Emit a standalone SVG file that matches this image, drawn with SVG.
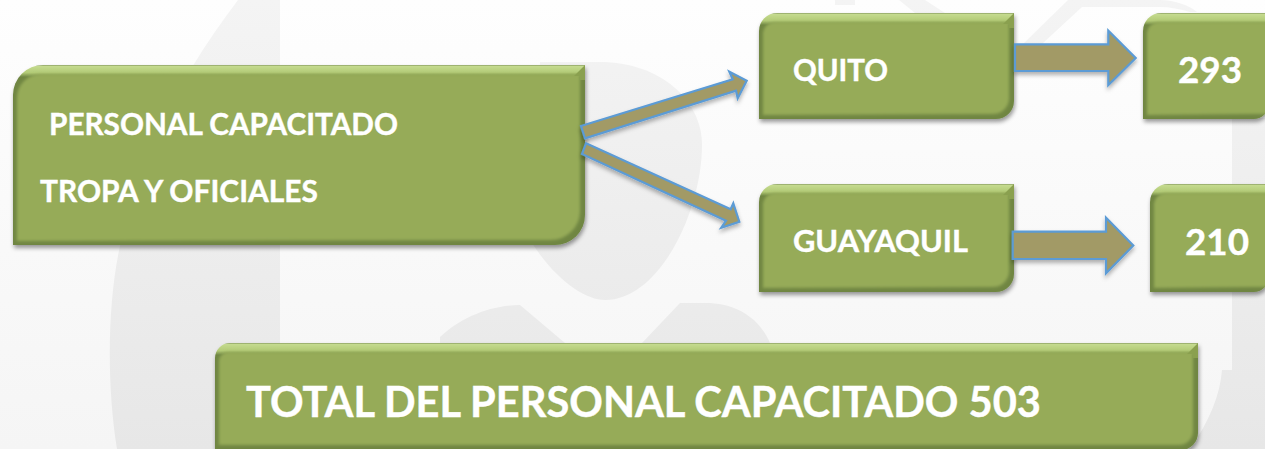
<svg xmlns="http://www.w3.org/2000/svg" width="1265" height="449" viewBox="0 0 1265 449">
<style>
.t{font-family:"Lato","Noto Sans",sans-serif;font-weight:700;fill:#fff;stroke:#fff;stroke-width:.4}
.a{fill:#a29a66;stroke:#5b9bd5;stroke-width:2.2;stroke-linejoin:miter}
.w{fill:url(#wm)}
.in{fill:#96ab58;filter:url(#soft)}
.m{fill:#8aa04f}
</style>
<defs>
<linearGradient id="bg" gradientUnits="userSpaceOnUse" x1="0" y1="0" x2="0" y2="449"><stop offset="0" stop-color="#fefefe"/><stop offset="1" stop-color="#f5f5f5"/></linearGradient>
<linearGradient id="wm" gradientUnits="userSpaceOnUse" x1="0" y1="0" x2="0" y2="449"><stop offset="0" stop-color="#f4f4f4"/><stop offset="1" stop-color="#e7e7e7"/></linearGradient>
<linearGradient id="g65" gradientUnits="userSpaceOnUse" x1="0" y1="65" x2="0" y2="77"><stop offset="0" stop-color="#8a9e62"/><stop offset=".12" stop-color="#c4da8e"/><stop offset=".65" stop-color="#b2ca76"/><stop offset="1" stop-color="#6f8643"/></linearGradient>
<linearGradient id="g13" gradientUnits="userSpaceOnUse" x1="0" y1="13" x2="0" y2="25"><stop offset="0" stop-color="#8a9e62"/><stop offset=".12" stop-color="#c4da8e"/><stop offset=".65" stop-color="#b2ca76"/><stop offset="1" stop-color="#6f8643"/></linearGradient>
<linearGradient id="g184" gradientUnits="userSpaceOnUse" x1="0" y1="184" x2="0" y2="196"><stop offset="0" stop-color="#8a9e62"/><stop offset=".12" stop-color="#c4da8e"/><stop offset=".65" stop-color="#b2ca76"/><stop offset="1" stop-color="#6f8643"/></linearGradient>
<linearGradient id="g343" gradientUnits="userSpaceOnUse" x1="0" y1="343" x2="0" y2="355"><stop offset="0" stop-color="#8a9e62"/><stop offset=".12" stop-color="#c4da8e"/><stop offset=".65" stop-color="#b2ca76"/><stop offset="1" stop-color="#6f8643"/></linearGradient>
<filter id="soft" x="-5%" y="-5%" width="110%" height="110%"><feGaussianBlur stdDeviation="1.6"/></filter>
<filter id="sh" x="-5%" y="-5%" width="112%" height="120%"><feDropShadow dx="1" dy="3" stdDeviation="2" flood-color="#000" flood-opacity=".4"/></filter>
<filter id="ash" x="-10%" y="-10%" width="120%" height="130%"><feDropShadow dx="0" dy="3" stdDeviation="2" flood-color="#000" flood-opacity=".3"/></filter>
</defs>
<rect width="1265" height="449" fill="url(#bg)"/>
<g id="watermark">
<path class="w" d="M238 0H280V449H117C106 380 108 300 120 246C135 170 170 90 238 0Z"/>
<path class="w" d="M540 62H600C660 62 702 100 702 145C702 210 660 300 605 300C585 300 555 280 530 240Z"/>
<path class="w" d="M440 343V337C460 318 490 305 520 305L565 343Z"/>
<path class="w" d="M642 343L680 303H710C740 305 760 320 770 343Z"/>
<path class="w" d="M1232 118H1265V449H1190C1210 420 1220 395 1222 370H1232Z"/>
<path class="w" d="M1023 44L1068 0H1160C1175 0 1190 6 1197 12H1190C1180 9 1170 7 1160 7H1082L1042 44Z"/>
<path class="w" d="M899 0H925L945 13H915Z"/>
<path class="w" d="M835 0H855V5H835Z"/>
</g>
<g id="personal">
<path filter="url(#sh)" fill="url(#g65)" d="M13 245V95A30 30 0 0 1 43 65H585V215A30 30 0 0 1 555 245Z"/>
<path class="in" d="M17 241V98A24 24 0 0 1 41 74H580V212A29 29 0 0 1 551 240Z"/>
<path class="m" d="M585 65L574 76H580V80H585Z"/>
<text class="t" x="49" y="135" font-size="30" textLength="349" lengthAdjust="spacingAndGlyphs">PERSONAL CAPACITADO</text>
<text class="t" x="40" y="202" font-size="30" textLength="278" lengthAdjust="spacingAndGlyphs">TROPA Y OFICIALES</text>
</g>
<g id="quito">
<path filter="url(#sh)" fill="url(#g13)" d="M759 119V31A18 18 0 0 1 777 13H1014V101A18 18 0 0 1 996 119Z"/>
<path class="in" d="M763 115V34A12 12 0 0 1 775 22H1009V99A16 16 0 0 1 993 114Z"/>
<path class="m" d="M1014 13L1003 24H1009V28H1014Z"/>
<text class="t" x="793" y="81" font-size="30" textLength="95" lengthAdjust="spacingAndGlyphs">QUITO</text>
</g>
<g id="n293">
<path filter="url(#sh)" fill="url(#g13)" d="M1143 119V31A18 18 0 0 1 1161 13H1268V105A14 14 0 0 1 1254 119Z"/>
<path class="in" d="M1147 115V34A12 12 0 0 1 1159 22H1270V114H1252Z"/>
<text class="t" x="1178" y="83" font-size="37" textLength="64" lengthAdjust="spacingAndGlyphs">293</text>
</g>
<g id="guayaquil">
<path filter="url(#sh)" fill="url(#g184)" d="M759 292V202A18 18 0 0 1 777 184H1014V274A18 18 0 0 1 996 292Z"/>
<path class="in" d="M763 288V205A12 12 0 0 1 775 193H1009V272A16 16 0 0 1 993 287Z"/>
<path class="m" d="M1014 184L1003 195H1009V199H1014Z"/>
<text class="t" x="793" y="252" font-size="30" textLength="175" lengthAdjust="spacingAndGlyphs">GUAYAQUIL</text>
</g>
<g id="n210">
<path filter="url(#sh)" fill="url(#g184)" d="M1150 292V202A18 18 0 0 1 1168 184H1268V278A14 14 0 0 1 1254 292Z"/>
<path class="in" d="M1154 288V205A12 12 0 0 1 1166 193H1270V287H1252Z"/>
<text class="t" x="1185" y="255" font-size="37" textLength="64" lengthAdjust="spacingAndGlyphs">210</text>
</g>
<g id="total">
<path filter="url(#sh)" fill="url(#g343)" d="M215 470V358A15 15 0 0 1 230 343H1198V433A17 17 0 0 1 1181 450H215Z"/>
<path class="in" d="M219 460V361A9 9 0 0 1 228 352H1193V431A14 14 0 0 1 1179 445H219Z"/>
<path class="m" d="M1198 343L1187 354H1193V358H1198Z"/>
<text class="t" x="246" y="417" font-size="42" textLength="795" lengthAdjust="spacingAndGlyphs">TOTAL DEL PERSONAL CAPACITADO 503</text>
</g>
<g id="connectors" filter="url(#ash)">
<path class="a" d="M581 126L732.7 79.3L729.3 71.7L746.7 80.7L737.7 98.3L736 90.7L585 138.3Z"/>
<path class="a" d="M586 143.3L730.7 209.3L733.3 203.3L739.3 221.7L721.3 227.7L726 220.7L582 154Z"/>
<path class="a" d="M1015 44.3H1108.3V30.7L1135.7 58L1108.3 85V71H1015Z"/>
<path class="a" d="M1012.7 231.7H1106V217.7L1133.3 245.5L1106 273.3V259H1012.7Z"/>
</g>
</svg>
